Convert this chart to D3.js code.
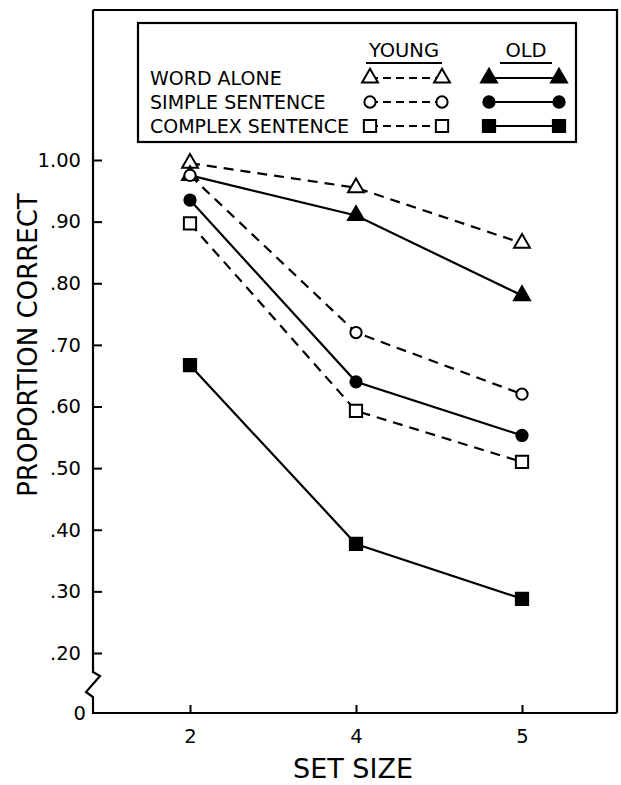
<!DOCTYPE html>
<html>
<head>
<meta charset="utf-8">
<script src="https://cdn.jsdelivr.net/npm/d3@7"></script>
<style>
  html, body { margin: 0; padding: 0; background: #fff; }
  svg { display: block; }
  text { font-family: "DejaVu Sans", "Liberation Sans", sans-serif; fill: #000; }
</style>
</head>
<body>
<svg id="chart" width="621" height="785"></svg>
<script>
// ---- data ----
const setSizes = ["2", "4", "5"];
const youngWord    = [0.995, 0.955, 0.865];
const oldWord      = [0.975, 0.910, 0.780];
const youngSimple  = [0.975, 0.720, 0.620];
const oldSimple    = [0.935, 0.640, 0.553];
const youngComplex = [0.897, 0.593, 0.510];
const oldComplex   = [0.667, 0.377, 0.288];
const yTicks = [0.20, 0.30, 0.40, 0.50, 0.60, 0.70, 0.80, 0.90, 1.00];
const conditions = ["WORD ALONE", "SIMPLE SENTENCE", "COMPLEX SENTENCE"];
const groups = ["YOUNG", "OLD"];

const series = [
  { cond: 0, group: "YOUNG", values: youngWord },
  { cond: 0, group: "OLD",   values: oldWord },
  { cond: 1, group: "YOUNG", values: youngSimple },
  { cond: 1, group: "OLD",   values: oldSimple },
  { cond: 2, group: "YOUNG", values: youngComplex },
  { cond: 2, group: "OLD",   values: oldComplex }
];

// ---- layout ----
const box = { left: 93, top: 10, right: 617, bottom: 713 };
const svg = d3.select("#chart");

const x = d3.scalePoint().domain(setSizes).range([190, 522]);
const y = d3.scaleLinear().domain([0.2, 1.0]).range([653, 160]);

const symbolTypes = [d3.symbolTriangle, d3.symbolCircle, d3.symbolSquare];
const symbolSizes = [110, 100, 150];
const sym = (c) => d3.symbol().type(symbolTypes[c]).size(symbolSizes[c])();

// plot frame: top & right sides
svg.append("path")
  .attr("d", `M${box.left},${box.top}H${box.right}V${box.bottom}`)
  .attr("fill", "none").attr("stroke", "#000").attr("stroke-width", 2.2);

// y axis with break
const yAxis = d3.axisLeft(y).tickValues(yTicks).tickSize(-9).tickPadding(14)
  .tickFormat(d => d3.format(".2f")(d).replace(/^0/, ""));
const gy = svg.append("g").attr("transform", `translate(${box.left},0)`).call(yAxis);
gy.select(".domain").remove();
gy.selectAll(".tick line").attr("stroke", "#000").attr("stroke-width", 2);
gy.selectAll(".tick text").style("font-size", "19.5px").attr("dx", "2");

svg.append("path")
  .attr("d", `M${box.left},${box.top}V672L100,676L86,692L${box.left},697V${box.bottom}H${box.right}`)
  .attr("fill", "none").attr("stroke", "#000").attr("stroke-width", 2.2);
svg.append("text").attr("x", 86).attr("y", box.bottom).attr("dy", "0.35em")
  .attr("text-anchor", "end").style("font-size", "19.5px").text("0");

// x axis
const xAxis = d3.axisBottom(x).tickSize(-8).tickPadding(16);
const gx = svg.append("g").attr("transform", `translate(0,${box.bottom})`).call(xAxis);
gx.select(".domain").remove();
gx.selectAll(".tick line").attr("stroke", "#000").attr("stroke-width", 2);
gx.selectAll(".tick text").style("font-size", "19.5px");

// axis titles
svg.append("text").attr("x", (box.left + box.right) / 2 - 2).attr("y", 778)
  .attr("text-anchor", "middle").style("font-size", "27px").text("SET SIZE");
svg.append("text").attr("transform", "translate(37,345) rotate(-90)")
  .attr("text-anchor", "middle").style("font-size", "26px").text("PROPORTION CORRECT");

// lines and markers
const line = d3.line().x((d, i) => x(setSizes[i])).y(d => y(d));
series.forEach(s => {
  const young = s.group === "YOUNG";
  svg.append("path").datum(s.values)
    .attr("d", line)
    .attr("fill", "none").attr("stroke", "#000").attr("stroke-width", 2.2)
    .attr("stroke-dasharray", young ? "10,7" : null);
  svg.selectAll(null).data(s.values).enter().append("path")
    .attr("d", sym(s.cond))
    .attr("transform", (d, i) => `translate(${x(setSizes[i])},${y(d)})`)
    .attr("fill", young ? "#fff" : "#000")
    .attr("stroke", "#000").attr("stroke-width", 2);
});

// legend
const lg = svg.append("g");
lg.append("rect").attr("x", 138).attr("y", 23).attr("width", 438).attr("height", 119)
  .attr("fill", "#fff").attr("stroke", "#000").attr("stroke-width", 2.2);
const groupX = { YOUNG: [370, 442], OLD: [489, 559] };
groups.forEach(g => {
  const cx = (groupX[g][0] + groupX[g][1]) / 2 + (g === "OLD" ? 2 : -2);
  lg.append("text").attr("x", cx).attr("y", 57).attr("text-anchor", "middle")
    .style("font-size", "19.5px").text(g);
  const uw = g === "YOUNG" ? 76 : 52;
  lg.append("line").attr("x1", cx - uw / 2).attr("x2", cx + uw / 2)
    .attr("y1", 63).attr("y2", 63).attr("stroke", "#000").attr("stroke-width", 1.8);
});
const rowY = [78, 102, 126];
conditions.forEach((c, i) => {
  lg.append("text").attr("x", 150).attr("y", rowY[i] + 7).style("font-size", "19px").text(c);
  groups.forEach(g => {
    const young = g === "YOUNG";
    const [x1, x2] = groupX[g];
    lg.append("line").attr("x1", x1).attr("x2", x2).attr("y1", rowY[i]).attr("y2", rowY[i])
      .attr("stroke", "#000").attr("stroke-width", 2)
      .attr("stroke-dasharray", young ? "8,5" : null);
    [x1, x2].forEach(px => {
      lg.append("path").attr("d", sym(i))
        .attr("transform", `translate(${px},${rowY[i]})`)
        .attr("fill", young ? "#fff" : "#000")
        .attr("stroke", "#000").attr("stroke-width", 2);
    });
  });
});
</script>
</body>
</html>
